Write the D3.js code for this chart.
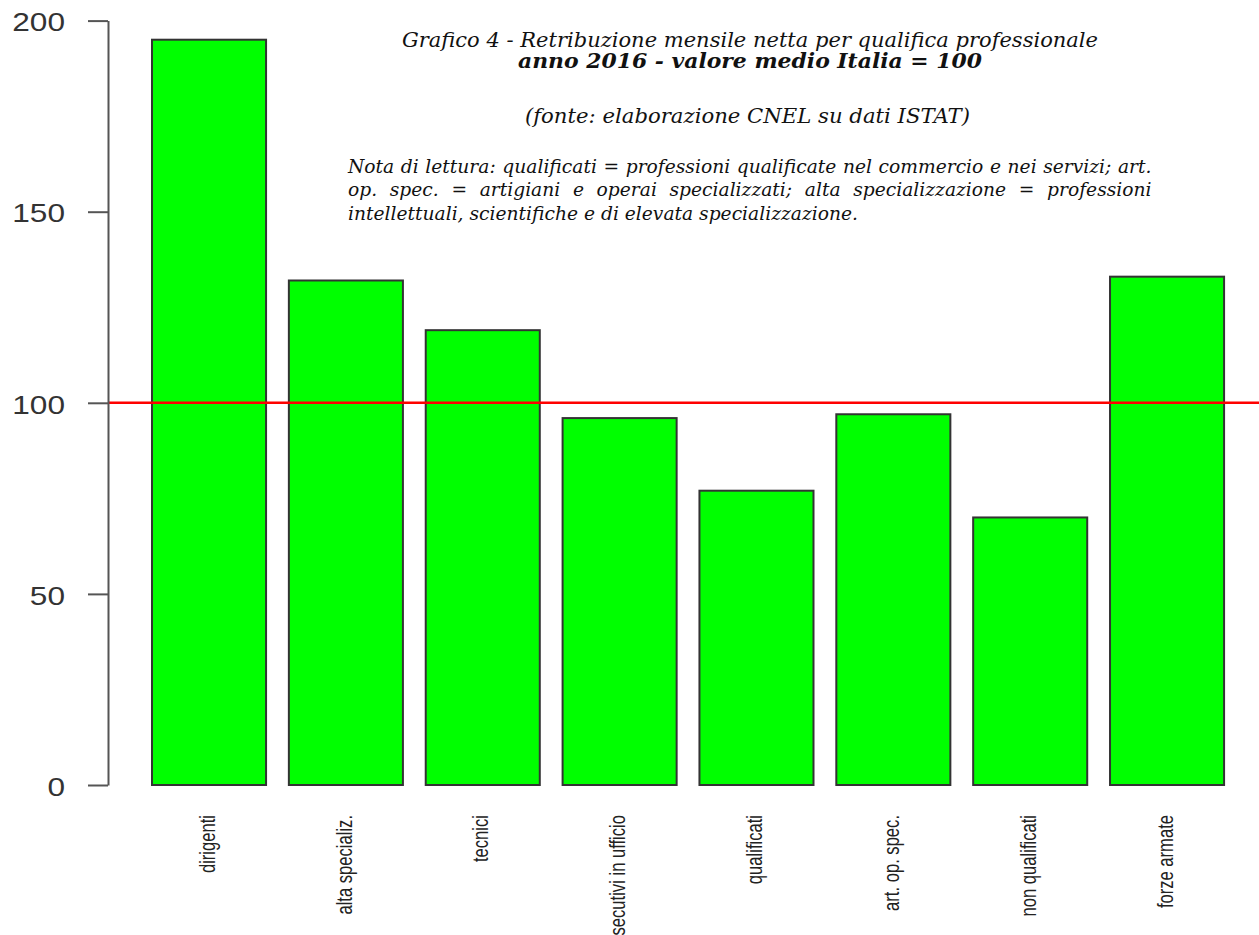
<!DOCTYPE html>
<html>
<head>
<meta charset="utf-8">
<script src="https://cdn.jsdelivr.net/npm/d3@7"></script>
<style>
  html, body { margin: 0; padding: 0; background: #fff; }
  svg { display: block; }
</style>
</head>
<body>
<svg id="chart" width="1259" height="935"></svg>
<script>
// ---- data ----
const categories = ["dirigenti", "alta specializ.", "tecnici", "esecutivi in ufficio",
                    "qualificati", "art. op. spec.", "non qualificati", "forze armate"];
const values = [195, 132, 119, 96, 77, 97, 70, 133];
const yTicks = [0, 50, 100, 150, 200];
const refValue = 100;

const titleLines = [
  "Grafico 4 - Retribuzione mensile netta per qualifica professionale",
  "anno 2016 - valore medio Italia = 100",
  "(fonte: elaborazione CNEL su dati ISTAT)"
];
const noteLines = [
  "Nota di lettura: qualificati = professioni qualificate nel commercio e nei servizi; art.",
  "op. spec. = artigiani e operai specializzati; alta specializzazione = professioni",
  "intellettuali, scientifiche e di elevata specializzazione."
];

// ---- layout ----
const svg = d3.select("#chart");
const W = 1259, H = 935;
const axisX = 108;
const y = d3.scaleLinear().domain([0, 200]).range([785, 20.6]);
const unit = 114.05;                 // width of one bar
const x = d3.scaleLinear().domain([0, 9.8]).range([129.2, 129.2 + 9.8 * unit]);
const barLeft = i => 0.2 + 1.2 * i;
const sx = 1.24;                     // horizontal stretch of the original raster

// bars
svg.append("g").selectAll("rect").data(values).join("rect")
  .attr("x", (d, i) => x(barLeft(i)))
  .attr("width", (d, i) => x(barLeft(i) + 1) - x(barLeft(i)))
  .attr("y", d => y(d))
  .attr("height", d => y(0) - y(d))
  .attr("fill", "#00ff00")
  .attr("stroke", "#333")
  .attr("stroke-width", 2);

// reference line
svg.append("line")
  .attr("x1", axisX).attr("x2", W)
  .attr("y1", y(refValue)).attr("y2", y(refValue))
  .attr("stroke", "#ff0000").attr("stroke-width", 2.6);

// y axis
const yAxis = d3.axisLeft(y).tickValues(yTicks).tickSize(20).tickSizeOuter(0).tickPadding(23);
const ga = svg.append("g").attr("transform", `translate(${axisX},0)`).call(yAxis);
ga.select(".domain").attr("stroke", "#555").attr("stroke-width", 2);
ga.selectAll(".tick line").attr("stroke", "#555").attr("stroke-width", 2);
ga.selectAll(".tick text")
  .attr("x", -43 / sx)
  .attr("dy", "0.4em")
  .attr("transform", `scale(${sx},1)`)
  .attr("fill", "#333")
  .style("font-family", "'Liberation Sans', Arial, sans-serif")
  .style("font-size", "25.5px");

// x labels
svg.append("g").selectAll("text").data(categories).join("text")
  .attr("transform", (d, i) => `translate(${x(barLeft(i) + 0.5) - 2},815) scale(1.32,1) rotate(-90)`)
  .attr("text-anchor", "end")
  .attr("dy", "0.35em")
  .attr("fill", "#222")
  .style("font-family", "'Liberation Sans', Arial, sans-serif")
  .style("font-size", "16.6px")
  .text(d => d);

// titles
const serif = "'DejaVu Serif', serif";
const tspec = [
  {x: 402, y: 47, w: 696, size: 19.5, weight: "normal"},
  {x: 518, y: 68, w: 464, size: 19.5, weight: "bold"},
  {x: 525, y: 123, w: 445, size: 19.5, weight: "normal"}
];
svg.append("g").selectAll("text").data(titleLines).join("text")
  .attr("x", (d, i) => tspec[i].x)
  .attr("y", (d, i) => tspec[i].y)
  .attr("textLength", (d, i) => tspec[i].w)
  .attr("lengthAdjust", "spacingAndGlyphs")
  .style("font-family", serif)
  .style("font-style", "italic")
  .style("font-weight", (d, i) => tspec[i].weight)
  .style("font-size", (d, i) => tspec[i].size + "px")
  .attr("fill", "#111")
  .text(d => d);

// note: first two lines justified (extra word spacing), last line ragged
const noteX = 348, noteW = 804;
const noteY = [173, 196.5, 220];
const noteT = svg.append("g").selectAll("text").data(noteLines).join("text")
  .attr("y", (d, i) => noteY[i])
  .style("font-family", serif)
  .style("font-style", "italic")
  .style("font-size", "19px")
  .attr("fill", "#111")
  .text(d => d);
const nat = noteT.nodes().map(n => n.getComputedTextLength());
const k = (noteW - 8) / nat[0];       // horizontal glyph stretch
noteT.each(function(d, i) {
  const t = d3.select(this);
  t.attr("transform", `translate(${noteX},0) scale(${k},1)`).attr("x", 0);
  if (i < 2) {
    const spaces = d.split(" ").length - 1;
    const ws = (noteW / k - nat[i]) / spaces;
    t.style("word-spacing", ws + "px");
  }
});
</script>
</body>
</html>
